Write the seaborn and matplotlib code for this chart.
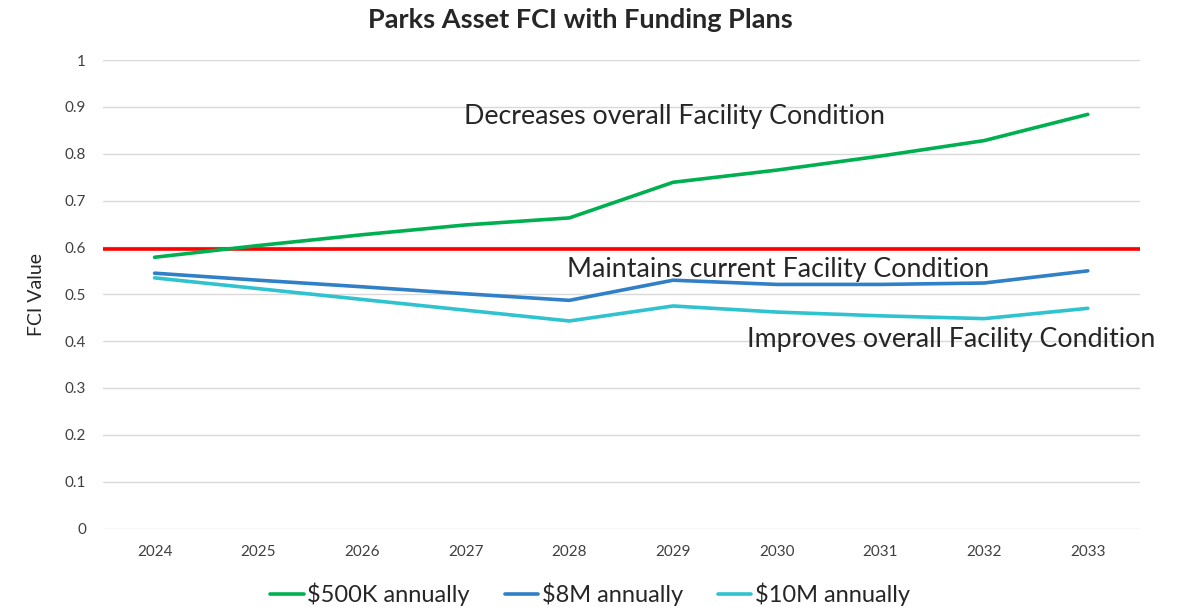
import pandas as pd
import seaborn as sns
import matplotlib.pyplot as plt

# values
years = [2024, 2025, 2026, 2027, 2028, 2029, 2030, 2031, 2032, 2033]
fci_500k = [0.579, 0.604, 0.627, 0.648, 0.663, 0.739, 0.765, 0.795, 0.828, 0.884]
fci_8m = [0.545, 0.530, 0.516, 0.501, 0.487, 0.530, 0.521, 0.521, 0.524, 0.550]
fci_10m = [0.535, 0.512, 0.489, 0.466, 0.443, 0.475, 0.462, 0.454, 0.448, 0.470]
series_names = ['$500K annually', '$8M annually', '$10M annually']
current_fci = 0.597
y_ticks = [0, 0.1, 0.2, 0.3, 0.4, 0.5, 0.6, 0.7, 0.8, 0.9, 1]
notes = ['Decreases overall Facility Condition',
         'Maintains current Facility Condition',
         'Improves overall Facility Condition']

colors = ['#00B050', '#2F80C6', '#2EC3CF']

frames = []
for name, vals in zip(series_names, [fci_500k, fci_8m, fci_10m]):
    frames.append(pd.DataFrame({'pos': range(len(years)), 'FCI': vals, 'Plan': name}))
df = pd.concat(frames, ignore_index=True)

sns.set_style('white')
plt.rcParams['font.family'] = ['Lato', 'DejaVu Sans']

fig = plt.figure(figsize=(11.81, 6.10), dpi=100)
ax = fig.add_axes([0.087, 0.1336, 0.878, 0.768])

ax.axhline(current_fci, color='#FF0000', linewidth=2.6, zorder=3)
sns.lineplot(data=df, x='pos', y='FCI', hue='Plan', palette=colors,
             linewidth=2.6, ax=ax, zorder=4)

ax.set_xlim(-0.5, len(years) - 0.5)
ax.set_ylim(0, 1)
ax.set_xticks(range(len(years)))
ax.set_xticklabels([str(y) for y in years], fontsize=11)
ax.set_yticks(y_ticks)
ax.set_yticklabels([f'{t:g}' for t in y_ticks], fontsize=11)
ax.tick_params(axis='both', length=0, pad=12, colors='#404040')
ax.yaxis.grid(True, color='#D9D9D9', linewidth=1)
for s in ax.spines.values():
    s.set_visible(False)

ax.set_xlabel('')
ax.set_ylabel('FCI Value', fontsize=14, labelpad=14)
fig.text(580 / 1181, 1 - 20 / 610, 'Parks Asset FCI with Funding Plans',
         fontsize=19.5, fontweight='bold', ha='center', va='center')

ax.text(2.98, 0.880, notes[0], fontsize=19.3, va='center', ha='left')
ax.text(3.98, 0.552, notes[1], fontsize=19.3, va='center', ha='left')
ax.text(5.71, 0.404, notes[2], fontsize=19.3, va='center', ha='left', clip_on=False)

handles, labels = ax.get_legend_handles_labels()
ax.legend(handles, labels, loc='upper center', bbox_to_anchor=(0.47, -0.07),
          ncol=3, frameon=False, fontsize=17, handlelength=1.4,
          handletextpad=0.15, columnspacing=1.5)

fig.savefig('out.png', dpi=100)
